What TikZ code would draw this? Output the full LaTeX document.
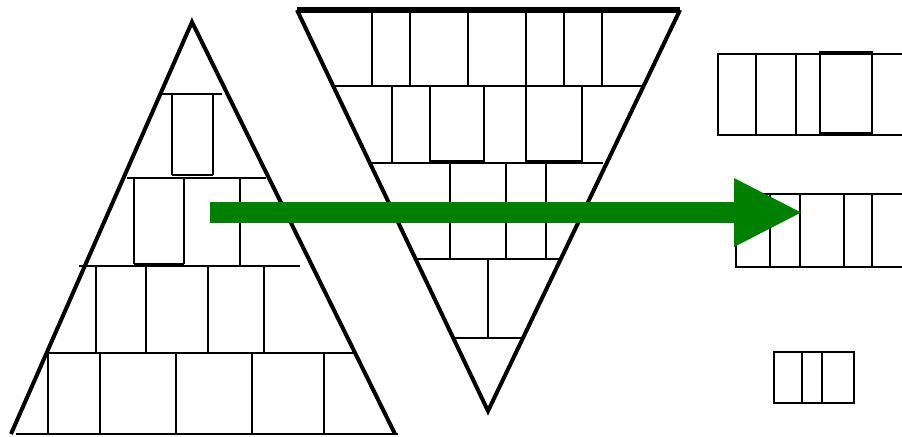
\documentclass[tikz,border=0pt]{standalone}
\begin{document}
\begin{tikzpicture}[x=0.75pt,y=-0.75pt,
  thin line/.style={line width=1.5pt},
  edge line/.style={line width=3pt},
  bold line/.style={line width=2.2pt}]
\useasboundingbox (0,0) rectangle (902,436);
% ---------- left triangle ----------
\draw[edge line] (11,434) -- (192,22) -- (395,434);
\draw[thin line] (16,434) -- (398,434);
\draw[thin line] (160,94) -- (222,94);
\draw[thin line] (127,178) -- (266,178);
\draw[thin line] (79,266) -- (300,266);
\draw[thin line] (47,353) -- (354,353);
% row 1
\draw[thin line] (172,94) -- (172,175);
\draw[thin line] (213,94) -- (213,175);
\draw[bold line] (172,175) -- (213,175);
% row 2
\draw[thin line] (134,178) -- (134,264);
\draw[thin line] (184,178) -- (184,264);
\draw[thin line] (240,178) -- (240,266);
\draw[bold line] (134,264) -- (184,264);
% row 3
\foreach \x in {96,146,208,264} \draw[thin line] (\x,266) -- (\x,353);
% row 4
\foreach \x in {48,100,176,252,324} \draw[thin line] (\x,353) -- (\x,434);
% ---------- inverted triangle ----------
\draw[line width=3.8pt] (297,10) -- (680,10);
\draw[edge line] (297,10) -- (488,411) -- (680,10);
\draw[thin line] (334,86) -- (642,86);
\draw[thin line] (370,163) -- (603,163);
\draw[thin line] (417,259) -- (559,259);
\draw[thin line] (452,338) -- (523,338);
\foreach \x in {372,410,468,526,564,602} \draw[thin line] (\x,10) -- (\x,86);
\foreach \x in {392,430,484,526,582} \draw[thin line] (\x,86) -- (\x,163);
\draw[bold line] (430,161) -- (484,161);
\draw[bold line] (526,161) -- (582,161);
\foreach \x in {450,506,546} \draw[thin line] (\x,163) -- (\x,259);
\draw[thin line] (488,259) -- (488,338);
% ---------- right boxes ----------
\draw[thin line] (902,54) -- (718,54) -- (718,135) -- (902,135);
\draw[thin line] (756,54) -- (756,135);
\draw[thin line] (796,54) -- (796,135);
\draw[bold line] (820,52) rectangle (872,133);
\draw[thin line] (902,194) -- (736,194) -- (736,267) -- (902,267);
\foreach \x in {770,800,844,872} \draw[thin line] (\x,194) -- (\x,267);
\draw[bold line] (774,352) rectangle (854,403);
\draw[bold line] (802,352) -- (802,403);
\draw[bold line] (822,352) -- (822,403);
% ---------- arrow ----------
\fill[green!50!black] (210,202) rectangle (735,223);
\fill[green!50!black] (734,178) -- (801,212.5) -- (734,247) -- cycle;
\end{tikzpicture}
\end{document}
